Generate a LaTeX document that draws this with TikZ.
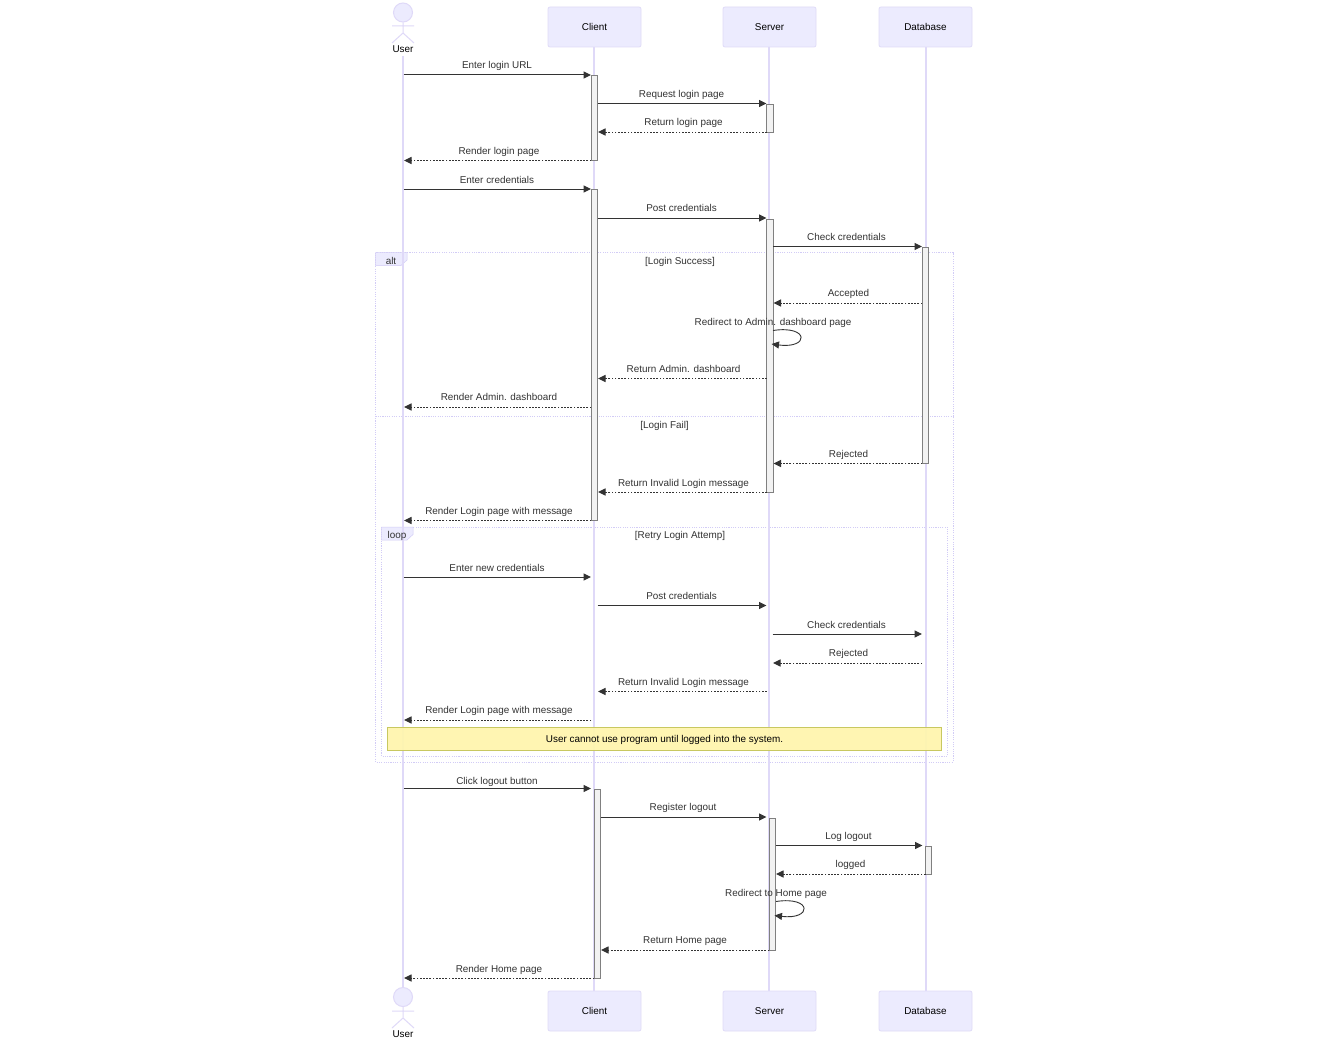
\documentclass[tikz,border=0pt]{standalone}
\usepackage{fontspec}
\setmainfont{Liberation Sans}
\usetikzlibrary{arrows.meta}
\definecolor{lav}{HTML}{ECEBFE}
\definecolor{boxline}{HTML}{E0DCF8}
\definecolor{lavline}{HTML}{DFD9F8}
\definecolor{frameline}{HTML}{D2CCF6}
\definecolor{txt}{HTML}{333333}
\definecolor{notefill}{HTML}{FFF5AD}
\definecolor{noteline}{HTML}{C8C860}
\tikzset{
  actorbox/.style={draw=boxline,fill=lav,rounded corners=2pt,minimum width=93pt,minimum height=40pt,inner sep=0pt,font=\fontsize{9.9}{12}\selectfont,text=black,line width=.8pt},
  lifeline/.style={draw=lavline,line width=1.25pt},
  head/.style={circle,draw=lavline,fill=lav,minimum size=19pt,inner sep=0pt,line width=1pt},
  limb/.style={draw=lavline,line width=1pt},
  actorlabel/.style={inner sep=0pt,anchor=base,font=\fontsize{9.9}{12}\selectfont,text=black},
  msglabel/.style={inner sep=0pt,anchor=base,font=\fontsize{9.9}{12}\selectfont,text=txt},
  solidmsg/.style={draw=txt,line width=1pt,-{Triangle[length=7.5pt,width=7pt]}},
  dashmsg/.style={draw=txt,line width=1pt,dash pattern=on 1.7pt off 1.5pt,-{Triangle[length=7.5pt,width=7pt]}},
  loopmsg/.style={draw=txt,line width=.9pt,-{Triangle[length=7.5pt,width=7pt]}},
  activation/.style={draw=black!50,fill=black!5,line width=.9pt},
  frameline/.style={draw=frameline,line width=1pt,dash pattern=on 1.1pt off 1.2pt},
  framelabel/.style={fill=lav,draw=frameline,line width=.5pt},
  notebox/.style={draw=noteline,fill=notefill,fill opacity=.93,text opacity=1,minimum width=554pt,minimum height=23pt,inner sep=0pt,font=\fontsize{9.9}{12}\selectfont,text=black,line width=.8pt,anchor=center,text height=8.2pt,text depth=0pt}
}
% id, x1, x2, y, label x, label baseline y, text, style
\newcommand{\msgline}[8]{%
  \coordinate (#1a) at (#2,#4);
  \coordinate (#1b) at (#3,#4);
  \draw[#8] (#1a) -- (#1b);
  \node[msglabel] (#1t) at (#5,#6) {#7};
}
% id, x1, x2, y1, y2
\newcommand{\actbar}[5]{%
  \node[activation,inner sep=0pt,minimum width=#3pt-#2pt,minimum height=#5pt-#4pt] (#1) at ({(#2+#3)/2},{(#4+#5)/2}) {};
}
\begin{document}
\begin{tikzpicture}[x=1pt,y=-1pt]
\useasboundingbox[fill=white] (0,0) rectangle (1329,1038);

% frames
\coordinate (altA) at (375.5,252.5);
\coordinate (altB) at (953,762);
\draw[frameline] (altA) rectangle (altB);
\coordinate (sepA) at (375.5,416.5);
\coordinate (sepB) at (953,416.5);
\draw[frameline] (sepA) -- (sepB);
\coordinate (loopA) at (381.5,527);
\coordinate (loopB) at (947.5,756);
\draw[frameline] (loopA) rectangle (loopB);
\path[framelabel] (375.5,252.5) -- (407,252.5) -- (407,260) -- (401,265.5) -- (375.5,265.5) -- cycle;
\path[framelabel] (381.5,527) -- (413,527) -- (413,534.5) -- (407,540) -- (381.5,540) -- cycle;

% lifelines
\coordinate (clientc) at (594,27);
\coordinate (serverc) at (769,27);
\coordinate (databasec) at (926,27);
\coordinate (clientd) at (594,1011);
\coordinate (serverd) at (769,1011);
\coordinate (databased) at (926,1011);
\node[head] (uhead) at (403,12.5) {};
\node[head] (uheadb) at (403,997) {};
\node[actorlabel] (ulabel) at (403,52.5) {User};
\node[actorlabel] (ulabelb) at (403,1037) {User};
\coordinate (uline) at (403,56);
\draw[lifeline] (uline) -- (uheadb.north);
\draw[lifeline] (clientc) -- (clientd);
\draw[lifeline] (serverc) -- (serverd);
\draw[lifeline] (databasec) -- (databased);
% actor boxes
\node[actorbox] (client) at (594.5,27) {Client};
\node[actorbox] (server) at (769.5,27) {Server};
\node[actorbox] (database) at (925.5,27) {Database};
\node[actorbox] (clientb) at (594.5,1011) {Client};
\node[actorbox] (serverb) at (769.5,1011) {Server};
\node[actorbox] (databaseb) at (925.5,1011) {Database};
% stick figures
\coordinate (uneck) at (403,33);
\coordinate (ularm) at (392,26);
\coordinate (urarm) at (414,26);
\coordinate (ulleg) at (392,43);
\coordinate (urleg) at (414,43);
\draw[limb] (uhead.south) -- (uneck) -- (ulleg) (uneck) -- (urleg) (ularm) -- (urarm);
\coordinate (vneck) at (403,1018);
\coordinate (vlarm) at (392,1011);
\coordinate (vrarm) at (414,1011);
\coordinate (vlleg) at (392,1028);
\coordinate (vrleg) at (414,1028);
\draw[limb] (uheadb.south) -- (vneck) -- (vlleg) (vneck) -- (vrleg) (vlarm) -- (vrarm);

% activations
\actbar{ca}{591.3}{597.6}{75}{160.5}
\actbar{sa}{766.8}{773}{104.5}{132}
\actbar{cb}{591.3}{597.6}{189.5}{520.5}
\actbar{sb}{766.8}{773}{219}{492}
\actbar{da}{922.3}{928.6}{247.5}{463.5}
\actbar{cc}{594.3}{600.6}{789}{978.5}
\actbar{sc}{769.3}{775.6}{818}{950}
\actbar{db}{925.5}{931.8}{846.5}{874}

% messages
\msgline{ma}{403.5}{591}{75}{497}{68.5}{Enter login URL}{solidmsg}
\msgline{mb}{597.6}{766.5}{103.5}{681.5}{97.5}{Request login page}{solidmsg}
\msgline{mc}{766.8}{598}{132}{683.5}{125}{Return login page}{dashmsg}
\msgline{md}{591.3}{404}{160.5}{499}{154}{Render login page}{dashmsg}
\msgline{me}{403.5}{591}{189}{497}{183}{Enter credentials}{solidmsg}
\msgline{mf}{597.6}{766.5}{218}{681.5}{211}{Post credentials}{solidmsg}
\msgline{mg}{773}{922}{246.5}{846.5}{240}{Check credentials}{solidmsg}
\node[msglabel] (altl) at (391,264) {alt};
\node[msglabel] (alts) at (680,264) {[Login Success]};
\msgline{mh}{922.3}{773.5}{303}{848.5}{296.5}{Accepted}{dashmsg}
\node[msglabel] (mit) at (773,325) {Redirect to Admin. dashboard page};
\coordinate (mia) at (773,330.5);
\coordinate (mib) at (771.5,344);
\coordinate (mic1) at (809.5,325);
\coordinate (mic2) at (809.5,349);
\draw[loopmsg] (mia) .. controls (mic1) and (mic2) .. (mib);
\msgline{mj}{766.8}{598}{378.5}{683.5}{372}{Return Admin. dashboard}{dashmsg}
\msgline{mk}{591.3}{404}{407}{499}{400.5}{Render Admin. dashboard}{dashmsg}
\node[msglabel] (failt) at (664.5,428) {[Login Fail]};
\msgline{ml}{922.3}{773.5}{463.5}{848.5}{457}{Rejected}{dashmsg}
\msgline{mm}{766.8}{598}{492}{683.5}{486}{Return Invalid Login message}{dashmsg}
\msgline{mn}{591.3}{404}{520.5}{499}{514}{Render Login page with message}{dashmsg}
\node[msglabel] (loopl) at (397,538) {loop};
\node[msglabel] (loopt) at (680,538) {[Retry Login Attemp]};
\msgline{mo}{403.5}{591}{577}{497}{571}{Enter new credentials}{solidmsg}
\msgline{mp}{597.6}{766.5}{605.5}{681.5}{599}{Post credentials}{solidmsg}
\msgline{mq}{772.5}{922}{634}{846.5}{628}{Check credentials}{solidmsg}
\msgline{mr}{922.3}{773}{663}{848.5}{656}{Rejected}{dashmsg}
\msgline{ms}{766.8}{598}{691.5}{683.5}{685}{Return Invalid Login message}{dashmsg}
\msgline{mt}{591.3}{404}{720}{499}{713}{Render Login page with message}{dashmsg}
\node[notebox] (note) at (664.5,738.5) {User cannot use program until logged into the system.};
\msgline{mu}{403.5}{591}{788.5}{497}{784}{Click logout button}{solidmsg}
\msgline{mv}{600.6}{766.5}{817}{683}{810}{Register logout}{solidmsg}
\msgline{mw}{775.6}{922.5}{845.5}{848.5}{839}{Log logout}{solidmsg}
\msgline{mx}{925.5}{776}{874}{850.5}{867}{logged}{dashmsg}
\node[msglabel] (myt) at (776,896) {Redirect to Home page};
\coordinate (mya) at (776,901.5);
\coordinate (myb) at (774.5,915.5);
\coordinate (myc1) at (812.5,896);
\coordinate (myc2) at (812.5,920);
\draw[loopmsg] (mya) .. controls (myc1) and (myc2) .. (myb);
\msgline{mz}{769.3}{601}{950}{685}{943}{Return Home page}{dashmsg}
\msgline{mzz}{594.3}{404}{978}{499}{972}{Render Home page}{dashmsg}
\end{tikzpicture}
\end{document}
